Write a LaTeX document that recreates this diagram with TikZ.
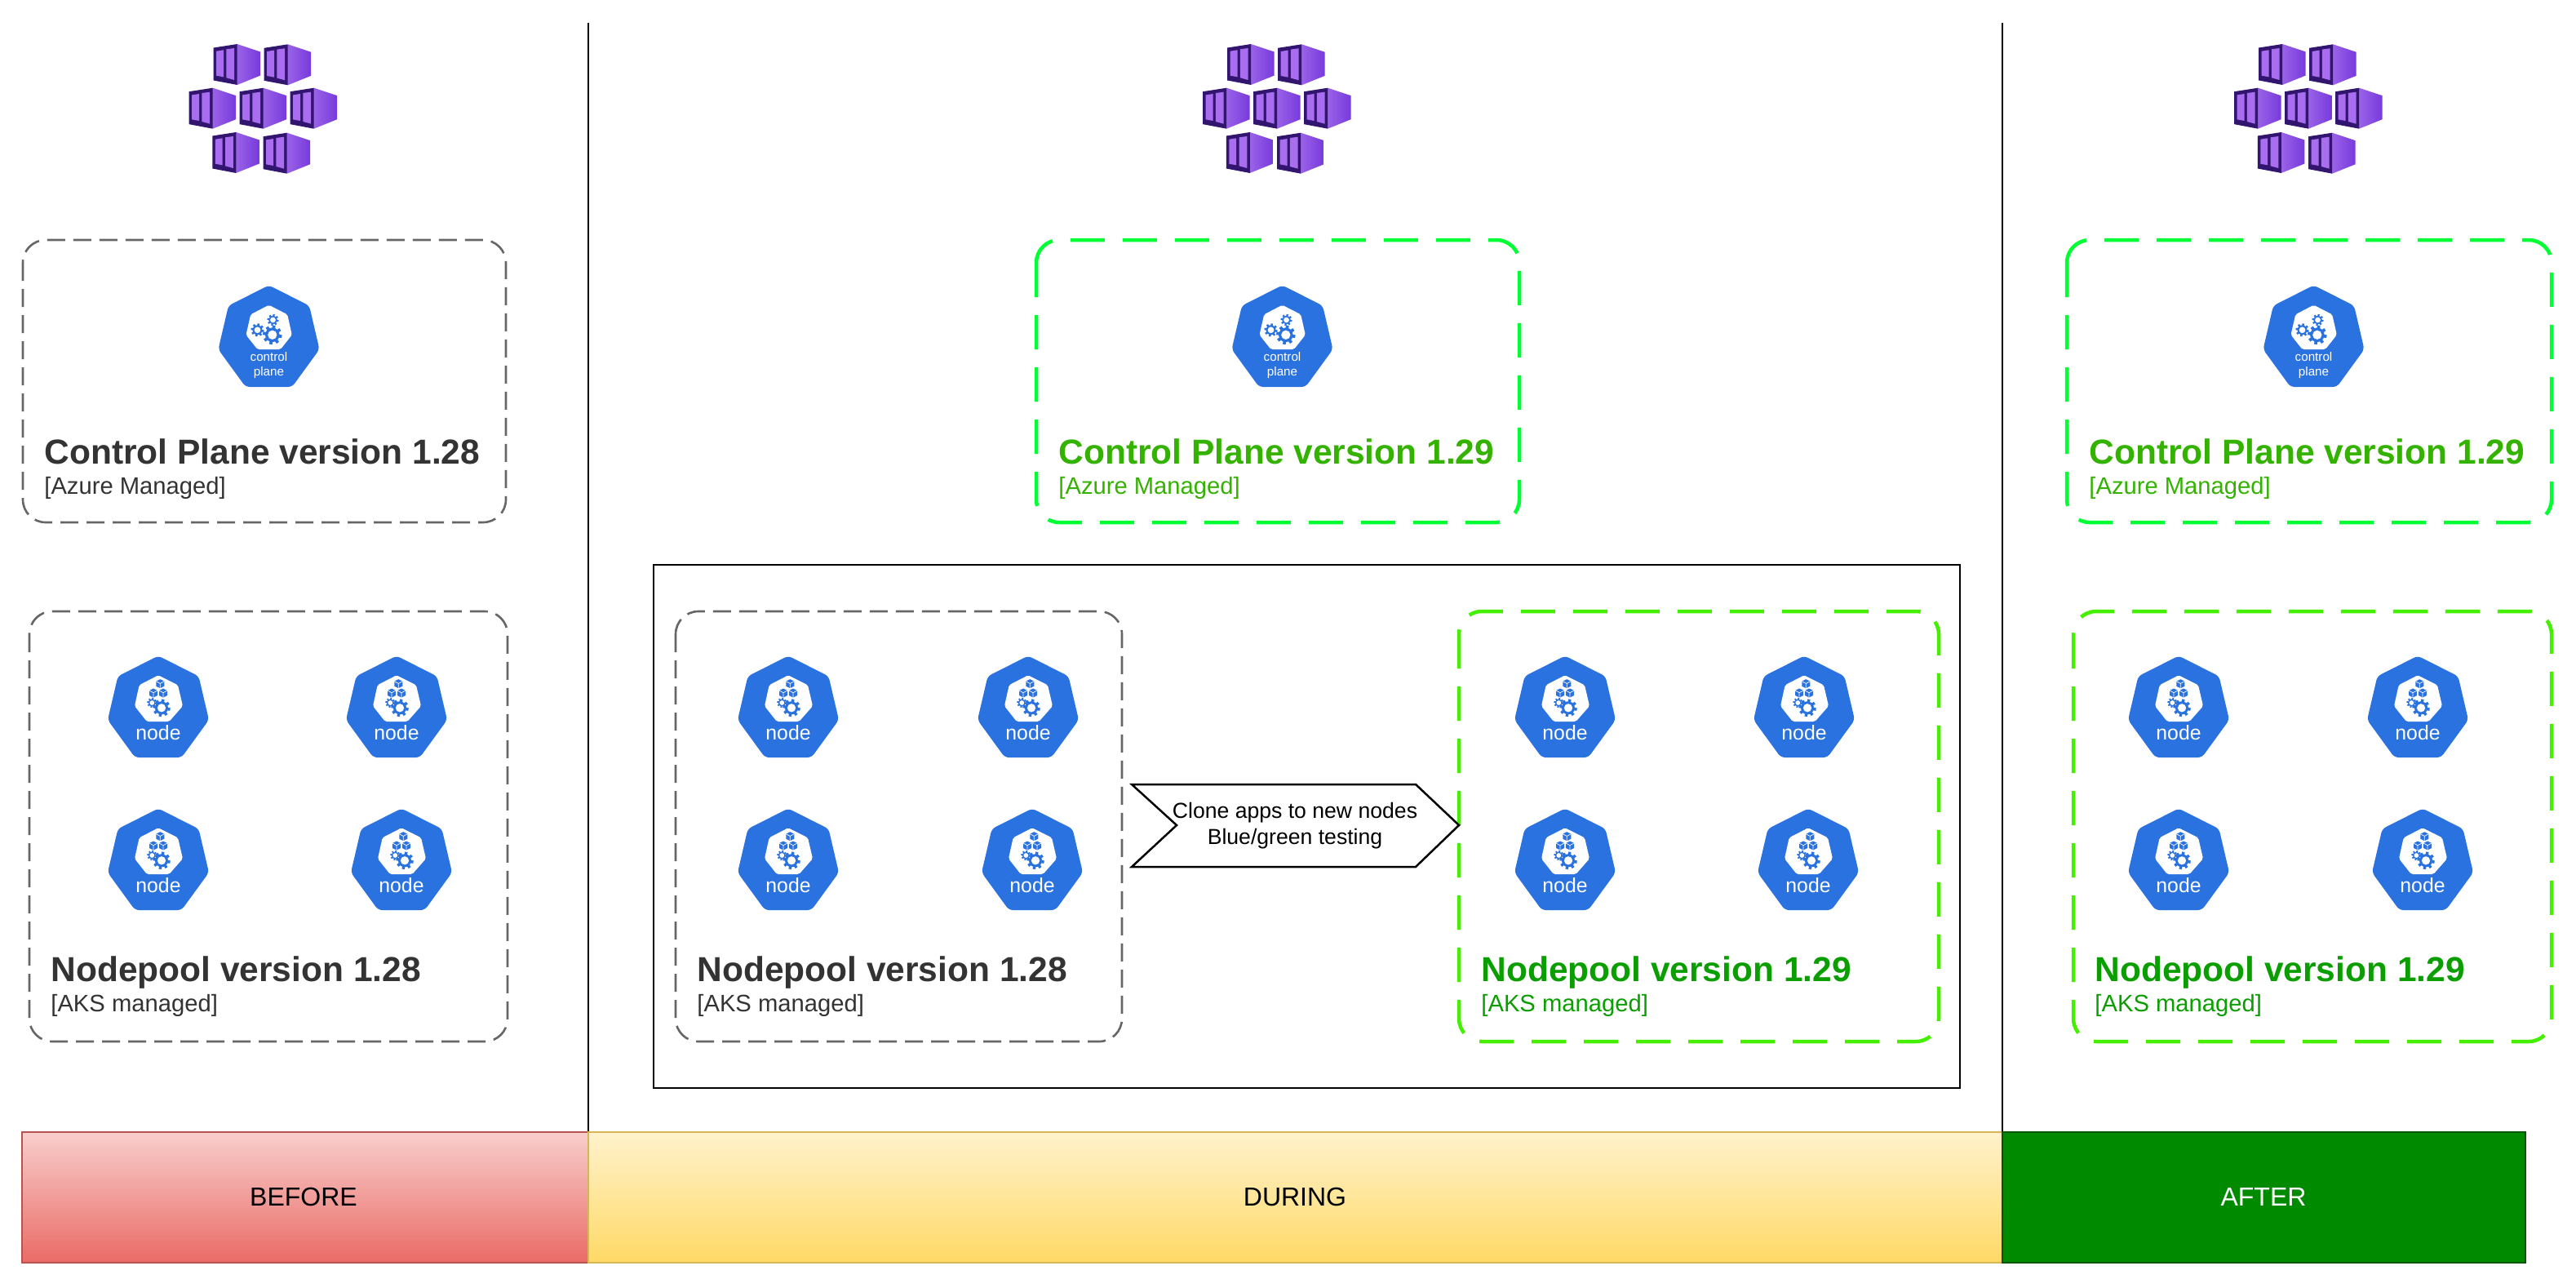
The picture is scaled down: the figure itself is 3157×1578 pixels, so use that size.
\documentclass[tikz,border=0pt]{standalone}
\usepackage{fontspec}
\setmainfont{Liberation Sans}
\definecolor{kblue}{HTML}{2A72E0}
\definecolor{cubelight}{HTML}{A96EF0}
\definecolor{cubedark}{HTML}{32156F}
\definecolor{cubeA}{HTML}{9A62E8}
\definecolor{cubeB}{HTML}{773ADC}
\definecolor{dtext}{HTML}{333333}
\definecolor{gcp}{HTML}{33B200}
\definecolor{gnp}{HTML}{0A9E00}
\definecolor{gline}{HTML}{44F000}
\definecolor{gcpline}{HTML}{00FF33}
\definecolor{barRt}{HTML}{F8CECC}
\definecolor{barRb}{HTML}{EA6B66}
\definecolor{barRl}{HTML}{B85450}
\definecolor{barYt}{HTML}{FFF2CC}
\definecolor{barYb}{HTML}{FFD966}
\definecolor{barYl}{HTML}{D6B656}
\definecolor{barGf}{HTML}{008A00}
\definecolor{barGl}{HTML}{005700}
\tikzset{
  graybox/.style={draw=black!60,line width=1.3pt,dash pattern=on 11pt off 5pt,rounded corners=14pt},
  greenbox/.style={draw=gline,line width=2.25pt,dash pattern=on 21pt off 11pt,rounded corners=14pt},
  titletext/.style={inner sep=0pt,anchor=base west,font=\fontsize{21.25}{25}\selectfont\bfseries},
  subtext/.style={inner sep=0pt,anchor=base west,font=\fontsize{14.6}{18}\selectfont},
  bartext/.style={inner sep=0pt,font=\fontsize{16}{19}\selectfont},
  icontext/.style={inner sep=0pt,anchor=base,text=white},
  divider/.style={draw=black,line width=1.4pt}
}
% one container of the registry icon
\newcommand\azcube[2]{%
  \begin{scope}[shift={(#1,#2)}]
    \shade[left color=cubeA,right color=cubeB] (0,0)--(28.5,9.5)--(28.5,38.5)--(0,50)--cycle;
    \fill[cubedark] (-29,4.5)--(0,0)--(0,50)--(-29,44.5)--cycle;
    \fill[cubelight] (-25.5,8.7)--(-16.7,7.3)--(-16.7,40.3)--(-25.5,38.7)--cycle;
    \fill[cubelight] (-13.3,6.3)--(-3.5,5)--(-3.5,44)--(-13.3,41.3)--cycle;
  \end{scope}}
% registry icon, #1 = x offset
\newcommand\azicon[1]{%
  \begin{scope}[shift={(#1,0)}]
    \azcube{290.7}{54}\azcube{352.7}{54.3}
    \azcube{260.7}{107.7}\azcube{322.7}{107.7}\azcube{384.7}{107.7}
    \azcube{289.3}{162}\azcube{351.7}{162.7}
  \end{scope}}
\newcommand\kgear[3]{%
  \foreach \a in {0,45,...,315}{\draw[kblue,line width=#3*0.16pt] (#1,#2)++(\a+10:#3*0.6)--++(\a+10:#3*0.4);}
  \fill[kblue] (#1,#2) circle[radius=#3*0.75];
  \fill[white] (#1,#2) circle[radius=#3*0.48];}
\newcommand\kcube[2]{%
  \fill[kblue] (#1,#2)++(0,-5.5)--++(5,2.5)--++(0,6)--++(-5,2.5)--++(-5,-2.5)--++(0,-6)--cycle;
  \draw[white,line width=.35pt] (#1,#2)++(-5,-3)--++(5,2.7)--++(5,-2.7) (#1,#2)++(0,-0.3)--++(0,5.8);}
\newcommand\hepta{(0,-2.5)--(49.5,22.5)--(62,76)--(28.5,122)--(-28.5,122)--(-62,76)--(-49.5,22.5)--cycle}
% control plane icon: #1 name, #2 #3 top centre
\newcommand\cpicon[3]{%
  \begin{scope}[shift={(#2,#3)}]
    \fill[kblue,rounded corners=2.5pt] \hepta;
    \fill[white,rounded corners=1pt] (0,21.7)--(22.7,33.3)--(28.3,58.3)--(14.3,76)--(-14,76)--(-28,58.3)--(-22.3,33.3)--cycle;
    \kgear{5}{40}{7}\kgear{-14}{52.3}{8}\kgear{4.3}{58.3}{11.7}
    \node[icontext,font=\fontsize{7.6}{9}\selectfont] (#1-a) at (0,90.7) {control};
    \node[icontext,font=\fontsize{7.6}{9}\selectfont] (#1-b) at (0,108) {plane};
  \end{scope}}
% worker node icon
\newcommand\ndicon[3]{%
  \begin{scope}[shift={(#2,#3)}]
    \fill[kblue,rounded corners=2.5pt] \hepta;
    \fill[white,rounded corners=1pt] (0,21.3)--(24,33.3)--(30,59)--(13.3,78)--(-14,78)--(-29,59)--(-23.3,33.3)--cycle;
    \kcube{2.3}{31.7}\kcube{-6}{43}\kcube{6}{43}
    \kgear{-7.7}{55}{6}\kgear{4}{61.3}{10.7}
    \node[icontext,font=\fontsize{12.4}{14}\selectfont] (#1-a) at (0,100.7) {node};
  \end{scope}}
% four node icons
\newcommand\nodequad[5]{%
  \ndicon{#1a}{#2}{806}\ndicon{#1b}{#3}{806}\ndicon{#1c}{#4}{993}\ndicon{#1d}{#5}{993}}
\begin{document}
\begin{tikzpicture}[x=0.5pt,y=-0.5pt]
\useasboundingbox (0,0) rectangle (3157,1578);
\fill[white] (0,0) rectangle (3157,1578);
% dividers
\coordinate (d1t) at (721,28); \coordinate (d1b) at (721,1387);
\coordinate (d2t) at (2454,28); \coordinate (d2b) at (2454,1387);
\draw[divider] (d1t)--(d1b);
\draw[divider] (d2t)--(d2b);
% registry icons
\azicon{0}\azicon{1242.5}\azicon{2506.5}
% black frame
\draw[draw=black,line width=1.25pt] (801,692) rectangle (2402,1333);
% boxes
\draw[graybox] (28,294) rectangle (620,640);
\draw[greenbox,draw=gcpline] (1270,294) rectangle (1862,640);
\draw[greenbox,draw=gcpline] (2533,294) rectangle (3127,640);
\draw[graybox] (36,749) rectangle (622,1276);
\draw[graybox] (828,749) rectangle (1375,1276);
\draw[greenbox] (1788,749) rectangle (2376,1276);
\draw[greenbox] (2541,749) rectangle (3127,1276);
% control plane icons
\cpicon{cpa}{329.5}{352}\cpicon{cpb}{1571.5}{352}\cpicon{cpc}{2835.5}{352}
% node icons
\nodequad{na}{194}{486}{194}{492}
\nodequad{nb}{966}{1260}{966}{1265}
\nodequad{nc}{1918}{2211}{1918}{2216}
\nodequad{nd}{2670}{2963}{2670}{2969}
% texts
\node[titletext,text=dtext] (t1) at (54,568) {Control Plane version 1.28};
\node[subtext,text=dtext] (s1) at (54,605) {[Azure Managed]};
\node[titletext,text=gcp] (t2) at (1297,568) {Control Plane version 1.29};
\node[subtext,text=gcp] (s2) at (1297,605) {[Azure Managed]};
\node[titletext,text=gcp] (t3) at (2560,568) {Control Plane version 1.29};
\node[subtext,text=gcp] (s3) at (2560,605) {[Azure Managed]};
\node[titletext,text=dtext] (t4) at (62,1202) {Nodepool version 1.28};
\node[subtext,text=dtext] (s4) at (62,1239) {[AKS managed]};
\node[titletext,text=dtext] (t5) at (854,1202) {Nodepool version 1.28};
\node[subtext,text=dtext] (s5) at (854,1239) {[AKS managed]};
\node[titletext,text=gnp] (t6) at (1815,1202) {Nodepool version 1.29};
\node[subtext,text=gnp] (s6) at (1815,1239) {[AKS managed]};
\node[titletext,text=gnp] (t7) at (2567,1202) {Nodepool version 1.29};
\node[subtext,text=gnp] (s7) at (2567,1239) {[AKS managed]};
% process arrow
\draw[draw=black,fill=white,line width=1.25pt] (1387,961)--(1735,961)--(1788,1011)--(1735,1062)--(1387,1062)--(1442,1011)--cycle;
\node[inner sep=0pt,align=center,font=\fontsize{13.3}{16}\selectfont] (clone) at (1587,1012) {Clone apps to new nodes\\Blue/green testing};
% phase bars
\shade[top color=barRt,bottom color=barRb] (27,1387) rectangle (721,1547);
\shade[top color=barYt,bottom color=barYb] (721,1387) rectangle (2454,1547);
\draw[draw=barRl,line width=1.25pt] (27,1387) rectangle (721,1547);
\draw[draw=barYl,line width=1.25pt] (721,1387) rectangle (2454,1547);
\draw[draw=barGl,fill=barGf,line width=1.25pt] (2454,1387) rectangle (3095,1547);
\node[bartext] (before) at (372,1466) {BEFORE};
\node[bartext] (during) at (1587,1466) {DURING};
\node[bartext,text=white] (after) at (2774,1466) {AFTER};
\end{tikzpicture}
\end{document}
